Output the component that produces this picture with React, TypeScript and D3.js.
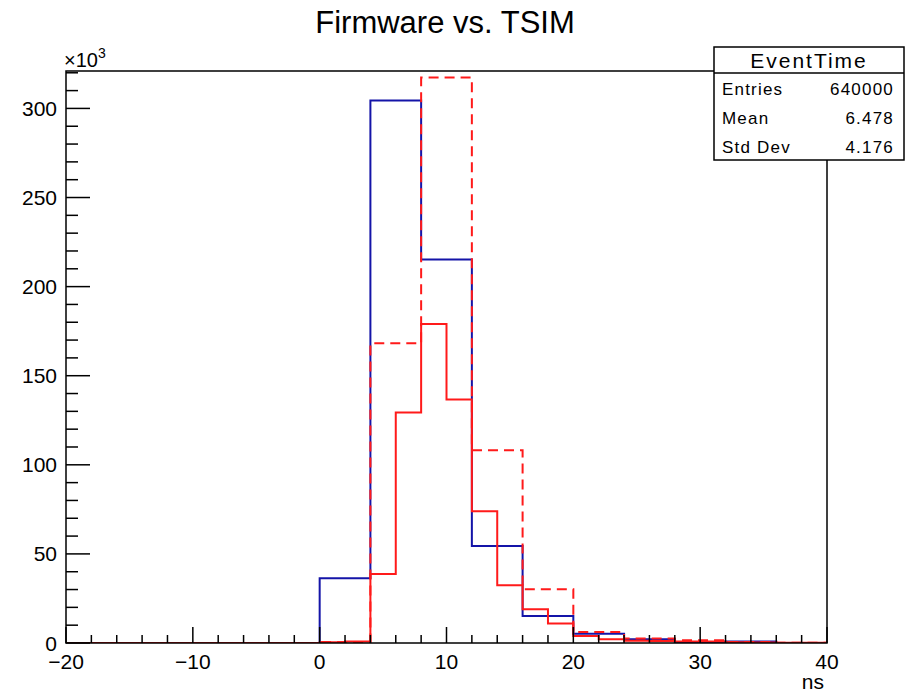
import * as d3 from 'd3';

// bin edges and contents (thousands of entries)
const wideEdges = [-20, -16, -12, -8, -4, 0, 4, 8, 12, 16, 20, 24, 28, 32, 36, 40];
const narrowEdges = [
  -20, -18, -16, -14, -12, -10, -8, -6, -4, -2, 0, 2, 4, 6, 8, 10, 12, 14, 16, 18, 20, 22, 24, 26, 28, 30,
  32, 34, 36, 38, 40,
];
const firmware = [0, 0, 0, 0, 0, 36.3, 304.5, 215.2, 54.5, 15.1, 5.2, 2.1, 0.3, 0.8, 0];
const tsimRebinned = [0, 0, 0, 0, 0, 0.5, 168.2, 317.3, 108.2, 30.1, 6.2, 2.5, 1.6, 0.6, 0.2];
const tsim = [
  0, 0, 0, 0, 0, 0, 0, 0, 0, 0, 0.4, 0.8, 38.7, 129.3, 179, 136.6, 74, 32.4, 19, 10.9, 3.9, 2.1, 1.3, 1.1,
  0.8, 0.8, 0.4, 0.3, 0.1, 0.1,
];
const xMajor = [-20, -10, 0, 10, 20, 30, 40];
const yMajor = [0, 50, 100, 150, 200, 250, 300];
const statNames = ['Entries', 'Mean', 'Std Dev'];
const statValues = ['640000', '6.478', '4.176'];

const W = 906;
const H = 694;
const left = 66;
const right = 827;
const top = 71;
const bottom = 643;
const font = '"Liberation Sans", Arial, Helvetica, sans-serif';

function stepPoints(edges: number[], vals: number[]): [number, number][] {
  const pts: [number, number][] = [];
  vals.forEach((v, i) => {
    pts.push([edges[i], v]);
    pts.push([edges[i + 1], v]);
  });
  return pts;
}

export default function App() {
  const x = d3.scaleLinear().domain([-20, 40]).range([left, right]);
  const y = d3.scaleLinear().domain([0, 321]).range([bottom, top]);
  const line = d3
    .line<[number, number]>()
    .x(d => x(d[0]))
    .y(d => y(d[1]));

  const xMinor = d3.range(-20, 40.01, 2);
  const yMinor = d3.range(0, 321, 10);

  return (
    <svg width={W} height={H} style={{ position: 'absolute', left: 0, top: 0, background: '#fff' }}>
      <rect width={W} height={H} fill="#fff" />
      <defs>
        <clipPath id="frame">
          <rect x={left} y={top} width={right - left} height={bottom - top} />
        </clipPath>
      </defs>
      <text x={445} y={33} textAnchor="middle" fontFamily={font} fontSize={31}>
        Firmware vs. TSIM
      </text>

      <g clipPath="url(#frame)" fill="none" strokeWidth={2}>
        <path d={line(stepPoints(wideEdges, firmware)) ?? ''} stroke="#1414a8" />
        <path d={line(stepPoints(wideEdges, tsimRebinned)) ?? ''} stroke="#ff1a1a" strokeDasharray="10,6" />
        <path d={line(stepPoints(narrowEdges, tsim)) ?? ''} stroke="#ff1a1a" />
      </g>

      <rect x={left} y={top} width={right - left} height={bottom - top} fill="none" stroke="#000" strokeWidth={1.5} />

      <g stroke="#000" strokeWidth={1.5}>
        {xMinor.map(t => (
          <line key={'xm' + t} x1={x(t)} x2={x(t)} y1={bottom} y2={bottom - (t % 10 === 0 ? 16 : 8)} />
        ))}
        {yMinor.map(t => (
          <line key={'ym' + t} x1={left} x2={left + (t % 50 === 0 ? 24 : 12)} y1={y(t)} y2={y(t)} />
        ))}
      </g>

      <g fontFamily={font} fontSize={21} fill="#000">
        {xMajor.map(t => (
          <text key={'xl' + t} x={x(t)} y={669} textAnchor="middle">
            {t < 0 ? '\u2212' + Math.abs(t) : String(t)}
          </text>
        ))}
        {yMajor.map(t => (
          <text key={'yl' + t} x={57} y={y(t) + 7.5} textAnchor="end">
            {t}
          </text>
        ))}
        <text x={824} y={689} textAnchor="end">
          ns
        </text>
      </g>
      <text x={64} y={67} fontFamily={font} fontSize={20}>
        ×10
        <tspan dy={-9} fontSize={14}>
          3
        </tspan>
      </text>

      <g fontFamily={font}>
        <rect x={714} y={47} width={190} height={113} fill="#fff" stroke="#000" strokeWidth={1.5} />
        <line x1={714} x2={904} y1={73} y2={73} stroke="#000" strokeWidth={1.5} />
        <text x={809} y={68} textAnchor="middle" fontSize={21} letterSpacing={2}>
          EventTime
        </text>
        {statNames.map((n, i) => (
          <g key={n} fontSize={17} letterSpacing={1.2}>
            <text x={722} y={95 + i * 29}>
              {n}
            </text>
            <text x={894} y={95 + i * 29} textAnchor="end">
              {statValues[i]}
            </text>
          </g>
        ))}
      </g>
    </svg>
  );
}
